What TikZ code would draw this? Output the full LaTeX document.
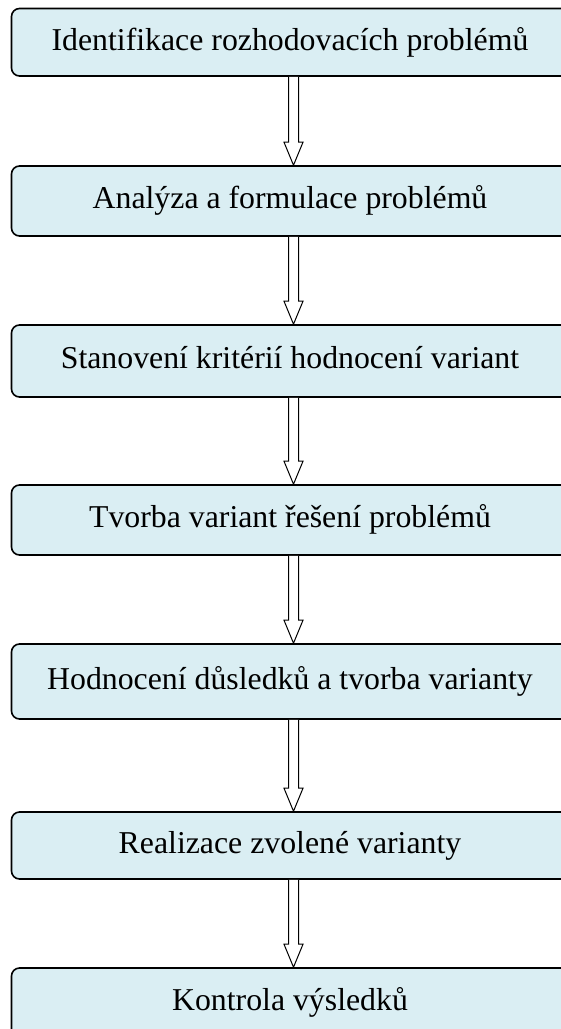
\documentclass[tikz,border=0pt]{standalone}
\usepackage{fontspec}
\setmainfont{Liberation Serif}
\usetikzlibrary{calc}
\definecolor{boxfill}{HTML}{DAEEF3}
\tikzset{
  stepbox/.style={draw=black, line width=1.6pt, fill=boxfill,
    rounded corners=8pt, minimum width=557pt, inner sep=0pt,
    text height=22pt, text depth=6.4pt,
    font=\fontsize{31.8}{36}\selectfont},
  hollow/.style={draw=black, line width=1pt, fill=white, line join=miter},
}
% hollow double-line arrow from the bottom of #1 to the top of #2
\newcommand\hollowarrow[2]{%
  \draw[hollow]
    ($(#1.south)+(-1.5,0)$) -- ($(#2.north)+(-1.5,23)$) --
    ($(#2.north)+(-6,23)$) -- ($(#2.north)+(3.5,0)$) --
    ($(#2.north)+(13,23)$) -- ($(#2.north)+(8.5,23)$) --
    ($(#1.south)+(8.5,0)$);}
\begin{document}
\begin{tikzpicture}[x=1pt,y=1pt]
  \useasboundingbox (0,0) rectangle (561,-1029);
  \clip (0,0) rectangle (561,-1029);
  \node[stepbox, minimum height=67.5pt] (s1) at (290,-42.25) {Identifikace rozhodovacích problémů};
  \node[stepbox, minimum height=70pt]   (s2) at (290,-201)   {Analýza a formulace problémů};
  \node[stepbox, minimum height=72pt]   (s3) at (290,-361)   {Stanovení kritérií hodnocení variant};
  \node[stepbox, minimum height=70pt]   (s4) at (290,-520)   {Tvorba variant řešení problémů};
  \node[stepbox, minimum height=75pt]   (s5) at (290,-681.5) {Hodnocení důsledků a tvorba varianty};
  \node[stepbox, minimum height=67pt]   (s6) at (290,-845.5) {Realizace zvolené varianty};
  \node[stepbox, minimum height=70pt]   (s7) at (290,-1003)  {Kontrola výsledků};
  \hollowarrow{s1}{s2}
  \hollowarrow{s2}{s3}
  \hollowarrow{s3}{s4}
  \hollowarrow{s4}{s5}
  \hollowarrow{s5}{s6}
  \hollowarrow{s6}{s7}
\end{tikzpicture}
\end{document}
